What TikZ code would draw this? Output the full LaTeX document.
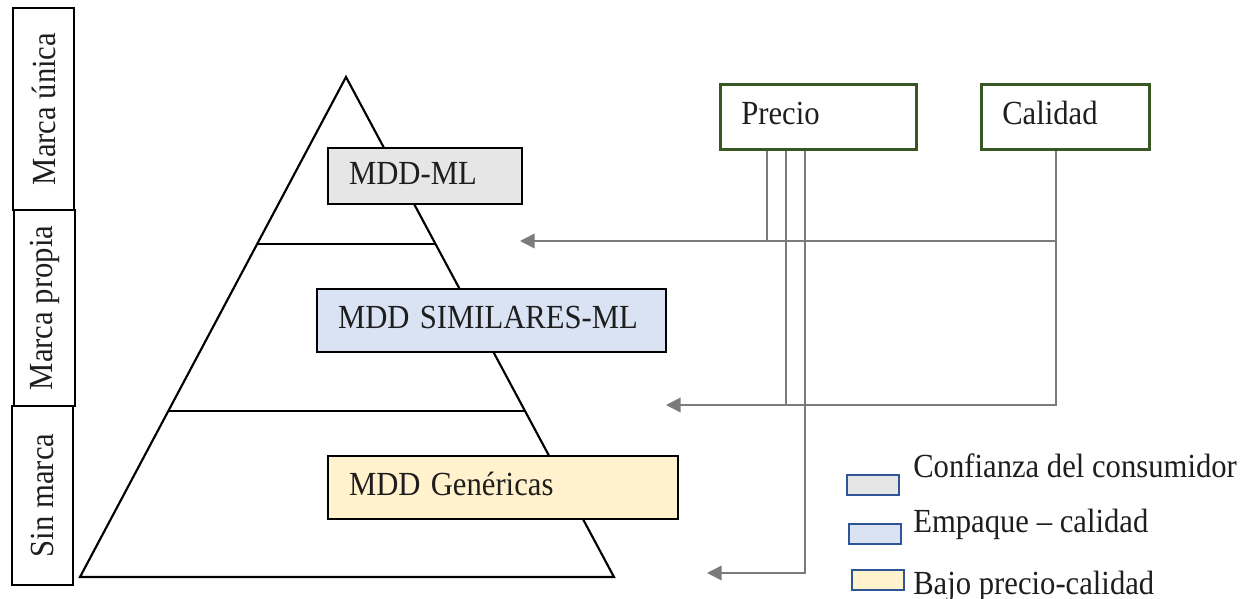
\documentclass[tikz,border=0pt]{standalone}
\usepackage{fontspec}
\usepackage{graphicx}
\setmainfont{Liberation Serif}
\usetikzlibrary{arrows.meta}
\definecolor{boxgray}{HTML}{E7E6E6}
\definecolor{boxblue}{HTML}{DAE3F3}
\definecolor{boxyellow}{HTML}{FFF2CC}
\definecolor{darkgreen}{RGB}{56,87,35}
\definecolor{legblue}{HTML}{2F5597}
\definecolor{conngray}{RGB}{125,122,122}
\definecolor{txt}{HTML}{1E1E1E}
\newcommand\stx[1]{\scalebox{1}[1.1]{#1}}
\tikzset{
  bigfont/.style={font=\fontsize{23}{27}\selectfont, text=txt},
  pyr/.style={line width=1.6pt, line join=miter},
  sidebox/.style={draw, line width=1.6pt, rotate=90, bigfont, inner sep=0pt},
  mddbox/.style={draw, line width=1.6pt, bigfont, anchor=north west, align=left, inner xsep=15.75pt, inner ysep=0pt, text height=17pt, text depth=4.7pt},
  factbox/.style={draw=darkgreen, line width=1.9pt, bigfont, anchor=north west, align=left, inner xsep=15.75pt, inner ysep=0pt, text height=17pt, text depth=4.7pt},
  legbox/.style={draw=legblue, line width=1.5pt, anchor=north west, minimum width=39pt, minimum height=15pt, inner sep=0pt},
  legtext/.style={bigfont, anchor=west, inner sep=0pt},
  conn/.style={draw=conngray, line width=1.1pt},
  arr/.style={conn, -{Triangle[length=11pt, width=11pt]}, conngray}
}
\begin{document}
\begin{tikzpicture}[x=0.75pt, y=-0.75pt]
\useasboundingbox (0,0) rectangle (1253,599);

% pyramid
\draw[pyr] (346,77) -- (614,577) -- (80,577) -- cycle;
\draw[pyr] (257,244) -- (435,244);
\draw[pyr] (168,411) -- (525,411);

% left side labels
\node[sidebox, minimum width=151.5pt, minimum height=45.75pt] (mu) at (43.5,109) {\stx{Marca única}};
\node[sidebox, minimum width=147pt, minimum height=45.75pt] (mp) at (44.5,308) {\stx{Marca propia}};
\node[sidebox, minimum width=134.25pt, minimum height=45.75pt] (sm) at (42.5,495.5) {\stx{Sin marca}};

% pyramid level boxes
\node[mddbox, fill=boxgray, text width=114pt, minimum height=42pt] (ml) at (327,147) {\stx{MDD-ML}};
\node[mddbox, fill=boxblue, text width=230.25pt, minimum height=47.25pt] (sim) at (316,288) {\stx{MDD SIMILARES-ML}};
\node[mddbox, fill=boxyellow, text width=231pt, minimum height=47.25pt] (gen) at (327,455) {\stx{MDD Genéricas}};

% factor boxes
\node[factbox, text width=115.5pt, minimum height=48.75pt] (pr) at (719,83) {\stx{Precio}};
\node[factbox, text width=94.5pt, minimum height=48.75pt] (ca) at (980,83) {\stx{Calidad}};

% connector helpers
\coordinate (x767) at (767,0);
\coordinate (x786) at (786,0);
\coordinate (x805) at (805,0);
\coordinate (x1056) at (1056,0);
\coordinate (a1) at (520,241);
\coordinate (a2) at (666,405);
\coordinate (a3) at (707,573);

\draw[conn] (x1056 |- a1) -- (x767 |- a1);
\draw[arr] (x767 |- pr.south) |- (a1);
\draw[arr] (x1056 |- ca.south) |- (a2);
\draw[conn] (x786 |- pr.south) -- (x786 |- a2);
\draw[arr] (x805 |- pr.south) |- (a3);

% legend
\node[legbox, fill=boxgray] (l1) at (846,474) {};
\node[legtext] (t1) at (913,466) {\stx{Confianza del consumidor}};
\node[legbox, fill=boxblue] (l2) at (848,523) {};
\node[legtext] (t2) at (913,524) {\stx{Empaque – calidad}};
\node[legbox, fill=boxyellow] (l3) at (851,569) {};
\node[legtext] (t3) at (913,586) {\stx{Bajo precio-calidad}};
\end{tikzpicture}
\end{document}
